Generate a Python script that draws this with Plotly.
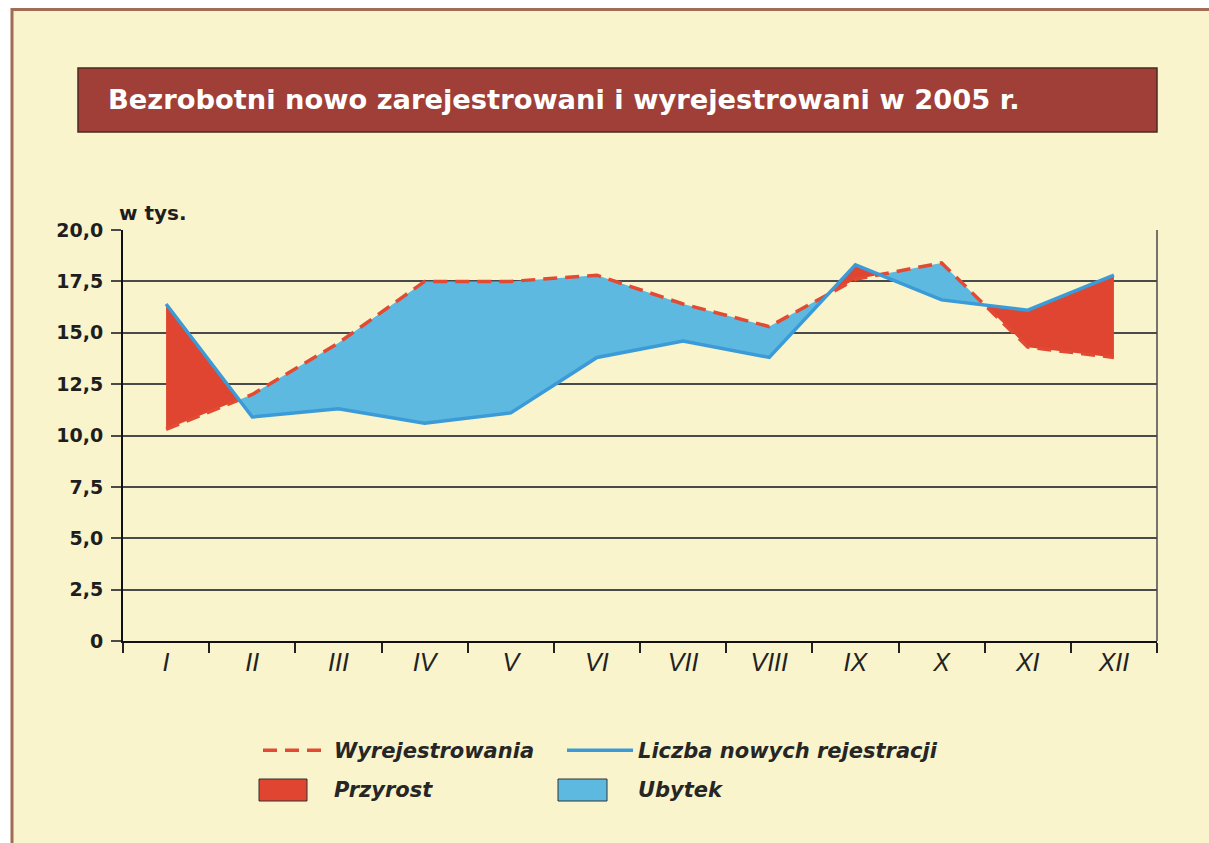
import plotly.graph_objects as go

# ---- data ----
months = ["I", "II", "III", "IV", "V", "VI", "VII", "VIII", "IX", "X", "XI", "XII"]
nowe_rejestracje = [16.4, 10.9, 11.3, 10.6, 11.1, 13.8, 14.6, 13.8, 18.3, 16.6, 16.1, 17.8]
wyrejestrowania = [10.3, 12.0, 14.5, 17.5, 17.5, 17.8, 16.4, 15.3, 17.6, 18.4, 14.3, 13.8]
y_ticks = [0, 2.5, 5, 7.5, 10, 12.5, 15, 17.5, 20]
y_tick_labels = ["0", "2,5", "5,0", "7,5", "10,0", "12,5", "15,0", "17,5", "20,0"]

BG = "#F9F4CB"
RED_FILL = "#DF4530"
RED_LINE = "#E24A33"
BLUE_FILL = "#5EB9E1"
BLUE_LINE = "#3B9BD8"
GRID = "#4a4a4a"
TXT = "#1e1e1e"
FONT = "DejaVu Sans, Liberation Sans, Arial, sans-serif"

xs = list(range(len(months)))

# ---- build fill regions between the two lines (split at crossings) ----
pts = []
for i in xs:
    b, r = nowe_rejestracje[i], wyrejestrowania[i]
    pts.append((i, b, r, False))
    if i < len(xs) - 1:
        d0 = b - r
        d1 = nowe_rejestracje[i + 1] - wyrejestrowania[i + 1]
        if d0 * d1 < 0:
            t = d0 / (d0 - d1)
            yc = b + t * (nowe_rejestracje[i + 1] - b)
            pts.append((i + t, yc, yc, True))

regions = []
cur = [pts[0]]
for p in pts[1:]:
    cur.append(p)
    if p[3]:
        regions.append(cur)
        cur = [p]
regions.append(cur)

px_, py_, ux_, uy_ = [], [], [], []
for reg in regions:
    sign = 0
    for p in reg:
        if not p[3]:
            sign = p[1] - p[2]
            break
    polx = [p[0] for p in reg] + [p[0] for p in reversed(reg)]
    poly = [p[1] for p in reg] + [p[2] for p in reversed(reg)]
    polx.append(polx[0]); poly.append(poly[0])
    if sign > 0:
        px_ += polx + [None]; py_ += poly + [None]
    else:
        ux_ += polx + [None]; uy_ += poly + [None]

fig = go.Figure()
fig.add_trace(go.Scatter(x=px_, y=py_, mode="lines", fill="toself", fillcolor=RED_FILL,
                         line=dict(width=0, color=RED_FILL), showlegend=False, hoverinfo="skip"))
fig.add_trace(go.Scatter(x=ux_, y=uy_, mode="lines", fill="toself", fillcolor=BLUE_FILL,
                         line=dict(width=0, color=BLUE_FILL), showlegend=False, hoverinfo="skip"))
fig.add_trace(go.Scatter(x=xs, y=wyrejestrowania, mode="lines", name="Wyrejestrowania",
                         line=dict(color=RED_LINE, width=3.5, dash="14px,8px"),
                         legend="legend", legendgroup="a"))
fig.add_trace(go.Scatter(x=xs, y=nowe_rejestracje, mode="lines", name="Liczba nowych rejestracji",
                         line=dict(color=BLUE_LINE, width=3.5),
                         legend="legend2", legendgroup="c"))
# legend entries for the fills (key boxes drawn as shapes below)
fig.add_trace(go.Scatter(x=[None], y=[None], mode="lines", fill="toself",
                         fillcolor="rgba(0,0,0,0)", line=dict(width=0, color="rgba(0,0,0,0)"),
                         name="Przyrost", legend="legend", legendgroup="b"))
fig.add_trace(go.Scatter(x=[None], y=[None], mode="lines", fill="toself",
                         fillcolor="rgba(0,0,0,0)", line=dict(width=0, color="rgba(0,0,0,0)"),
                         name="Ubytek", legend="legend2", legendgroup="d"))

W, H = 1209, 843
L, R, T, B = 123, 1157, 230, 641


def pxx(v):
    return (v - L) / (R - L)


def pxy(v):
    return (B - v) / (B - T)


legend_font = dict(family=FONT, size=21, color="#262626", weight="bold", style="italic")

fig.update_layout(
    width=W, height=H,
    margin=dict(l=L, r=W - R, t=T, b=H - B, pad=0),
    paper_bgcolor="white",
    plot_bgcolor=BG,
    font=dict(family=FONT, color=TXT),
    xaxis=dict(range=[-0.5, len(months) - 0.5], tickvals=xs, ticktext=months,
               ticks="", showgrid=False, zeroline=False,
               showline=True, linecolor="#111111", linewidth=2,
               ticklabelstandoff=-2,
               tickfont=dict(family="Liberation Sans Narrow, Liberation Sans, Arial", size=25,
                             style="italic", color="#222222"),
               minor=dict(tick0=-0.5, dtick=1, ticks="outside", ticklen=10, tickwidth=1.5,
                          tickcolor="#222222", showgrid=False),
               fixedrange=True),
    yaxis=dict(range=[0, 20], tickvals=y_ticks, ticktext=y_tick_labels,
               ticks="outside", ticklen=10, tickcolor=GRID, tickwidth=1.5,
               ticklabelstandoff=4,
               showgrid=True, gridcolor=GRID, gridwidth=1.5, zeroline=False,
               showline=True, linecolor="#111111", linewidth=2,
               tickfont=dict(family=FONT, size=19, weight="bold", color=TXT),
               fixedrange=True),
    legend=dict(x=pxx(258), y=pxy(730), xanchor="left", yanchor="top",
                bgcolor="rgba(0,0,0,0)", font=legend_font, itemwidth=66,
                tracegroupgap=8),
    legend2=dict(x=pxx(562), y=pxy(730), xanchor="left", yanchor="top",
                 bgcolor="rgba(0,0,0,0)", font=legend_font, itemwidth=66,
                 tracegroupgap=8),
    shapes=[
        # outer frame
        dict(type="rect", xref="paper", yref="paper", layer="below",
             x0=pxx(12), x1=pxx(1215), y0=pxy(850), y1=pxy(9.5),
             fillcolor=BG, line=dict(color="#A36A55", width=3)),
        # title box
        dict(type="rect", xref="paper", yref="paper",
             x0=pxx(78), x1=pxx(1157), y0=pxy(132), y1=pxy(68),
             fillcolor="#A03F37", line=dict(color="#4a2a22", width=1.5)),
        # right border of plot area
        dict(type="line", xref="paper", yref="paper", x0=1, x1=1, y0=0, y1=1,
             line=dict(color=GRID, width=1.5)),
        # legend key boxes for the fills
        dict(type="rect", xref="paper", yref="paper",
             x0=pxx(259), x1=pxx(307), y0=pxy(801), y1=pxy(779),
             fillcolor=RED_FILL, line=dict(color="#333333", width=1)),
        dict(type="rect", xref="paper", yref="paper",
             x0=pxx(558), x1=pxx(607), y0=pxy(801), y1=pxy(779),
             fillcolor=BLUE_FILL, line=dict(color="#333333", width=1)),
    ],
    annotations=[
        dict(text="Bezrobotni nowo zarejestrowani i wyrejestrowani w 2005 r.",
             xref="paper", yref="paper", x=pxx(106), y=pxy(100),
             xanchor="left", yanchor="middle", showarrow=False,
             font=dict(family=FONT, size=27.3, color="white", weight="bold")),
        dict(text="w tys.", xref="paper", yref="paper", x=pxx(117), y=pxy(213),
             xanchor="left", yanchor="middle", showarrow=False,
             font=dict(family=FONT, size=20, color=TXT, weight="bold")),
    ],
)

fig.write_html("out.html", config={"displayModeBar": False},
               post_script="document.body.style.margin='0';document.body.style.overflow='hidden';")
